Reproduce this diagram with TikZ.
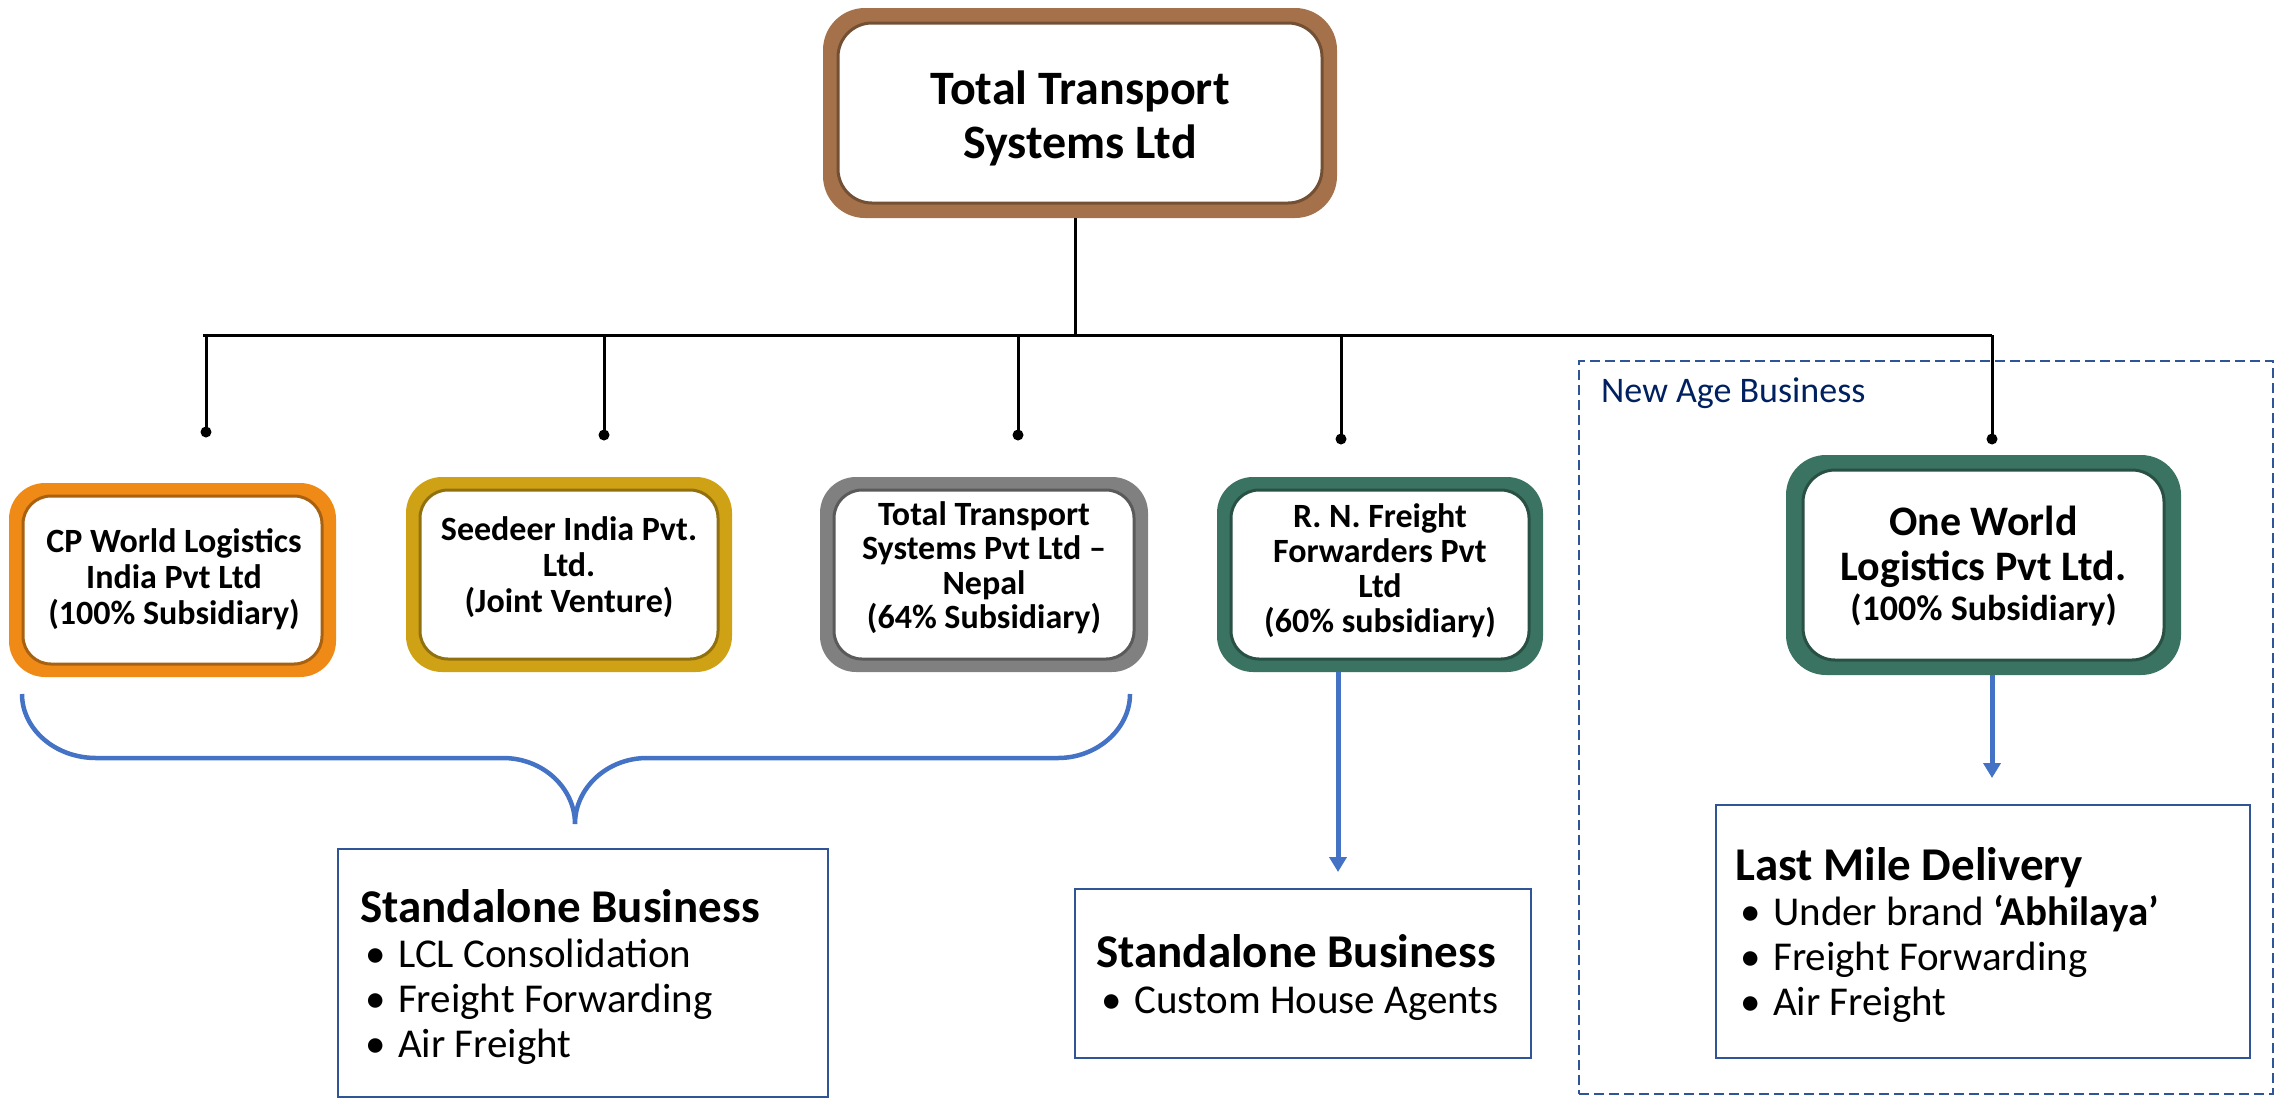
\documentclass[tikz,border=0pt]{standalone}
\usepackage{fontspec}
\setmainfont{Carlito}
\usetikzlibrary{arrows.meta}
\definecolor{cporange}{HTML}{EF8A17}
\definecolor{seedgold}{HTML}{CFA115}
\definecolor{nepgray}{HTML}{808080}
\definecolor{rngreen}{HTML}{3A7361}
\definecolor{topbrown}{HTML}{A5714A}
\definecolor{linkblue}{HTML}{4472C4}
\definecolor{frameblue}{HTML}{2F5597}
\definecolor{navytext}{HTML}{002060}
\newcommand{\cboxtext}[2]{\parbox[t]{#1}{\centering #2}}
\newcommand{\blt}{\hspace*{5pt}\makebox[33pt][l]{•}}
\tikzset{
  ringouter/.style={rounded corners=36pt, inner sep=0pt, outer sep=0pt},
  ringinner/.style={rounded corners=28pt, fill=white, line width=3pt, inner sep=0pt, outer sep=0pt},
  subtext/.style={anchor=base, inner sep=0pt, font=\fontsize{34}{36}\selectfont\bfseries},
  busline/.style={line width=3pt, black},
  dotend/.style={circle, fill=black, inner sep=0pt, minimum size=11pt},
  bluearrow/.style={line width=5pt, linkblue, -{Triangle[length=15pt,width=17pt]}},
  sbox/.style={draw=frameblue, line width=2.5pt, inner sep=0pt, outer sep=0pt},
  listtext/.style={anchor=base west, inner sep=0pt},
}
\begin{document}
\begin{tikzpicture}[x=1pt, y=-1pt]
\useasboundingbox (0,0) rectangle (2280,1098);

% top box
\node[ringouter, rounded corners=42pt, fill=topbrown, minimum width=514pt, minimum height=210pt] (top) at (1080,113) {};
\node[ringinner, rounded corners=34pt, draw=topbrown!70!black, minimum width=484pt, minimum height=180pt] (topin) at (top.center) {};
\node[anchor=base, inner sep=0pt, font=\fontsize{48}{54}\selectfont\bfseries] (toptext) at (1080,104) {\cboxtext{480pt}{Total Transport\\Systems Ltd}};

% subsidiary boxes
\node[ringouter, fill=cporange, minimum width=327pt, minimum height=194pt] (cp) at (172.5,580) {};
\node[ringinner, draw=cporange!70!black, minimum width=299pt, minimum height=168pt] (cpin) at (cp.center) {};
\node[subtext] (cptext) at (174,552) {\cboxtext{290pt}{CP World Logistics\\India Pvt Ltd\\(100\% Subsidiary)}};

\node[ringouter, fill=seedgold, minimum width=326pt, minimum height=195pt] (seed) at (569,574.5) {};
\node[ringinner, draw=seedgold!70!black, minimum width=298pt, minimum height=169pt] (seedin) at (seed.center) {};
\node[subtext] (seedtext) at (569,540) {\cboxtext{290pt}{Seedeer India Pvt.\\Ltd.\\(Joint Venture)}};

\node[ringouter, fill=nepgray, minimum width=328pt, minimum height=195pt] (nep) at (984,574.5) {};
\node[ringinner, draw=nepgray!70!black, minimum width=300pt, minimum height=169pt] (nepin) at (nep.center) {};
\node[subtext, font=\fontsize{34}{34.5}\selectfont\bfseries] (neptext) at (984,525) {\cboxtext{296pt}{Total Transport\\Systems Pvt Ltd –\\Nepal\\(64\% Subsidiary)}};

\node[ringouter, fill=rngreen, minimum width=326pt, minimum height=195pt] (rn) at (1380,574.5) {};
\node[ringinner, draw=rngreen!70!black, minimum width=298pt, minimum height=169pt] (rnin) at (rn.center) {};
\node[subtext, font=\fontsize{34}{35.3}\selectfont\bfseries] (rntext) at (1380,527) {\cboxtext{290pt}{R. N. Freight\\Forwarders Pvt\\Ltd\\(60\% subsidiary)}};

% new age frame
\node[draw=frameblue, dashed, dash pattern=on 10pt off 5pt, line width=2.5pt, minimum width=694pt, minimum height=733pt, inner sep=0pt] (newage) at (1926,727.5) {};
\node[anchor=base west, inner sep=0pt, text=navytext, font=\fontsize{36}{40}\selectfont] (newagelbl) at (1601,402) {New Age Business};

\node[ringouter, rounded corners=40pt, fill=rngreen, minimum width=395pt, minimum height=220pt] (ow) at (1983.5,565) {};
\node[ringinner, rounded corners=32pt, draw=rngreen!70!black, minimum width=361pt, minimum height=190pt] (owin) at (ow.center) {};
\node[anchor=base, inner sep=0pt, font=\fontsize{42}{45}\selectfont\bfseries] (owtext) at (1983.5,535) {\cboxtext{350pt}{One World\\Logistics Pvt Ltd.\par\fontsize{36}{40}\selectfont(100\% Subsidiary)}};

% connectors from top
\coordinate (busL) at (203,335);
\coordinate (busR) at (1992,335);
\draw[busline] (busL) -- (busR);
\draw[busline] ([xshift=-5pt]top.south) -- ([xshift=-5pt]top.south |- busL);
\node[dotend] (dcp) at (206,432) {};
\node[dotend] (dseed) at (604,435) {};
\node[dotend] (dnep) at (1018,435) {};
\node[dotend] (drn) at (1341,439) {};
\node[dotend] (dow) at (1992,439) {};
\foreach \d in {dcp,dseed,dnep,drn,dow}{
  \draw[busline] (\d |- busL) -- (\d.center);
}

% standalone / last mile boxes
\node[sbox, minimum width=490pt, minimum height=248pt] (sb1) at (583,973) {};
\node[listtext] (sb1text) at (360,922) {\parbox[t]{460pt}{\fontsize{47}{45}\selectfont\bfseries Standalone Business\\
  \fontsize{41}{45}\selectfont\mdseries\blt LCL Consolidation\\
  \blt Freight Forwarding\\
  \blt Air Freight}};

\node[sbox, minimum width=456pt, minimum height=169pt] (sb2) at (1303,973.5) {};
\node[listtext] (sb2text) at (1096,967) {\parbox[t]{430pt}{\fontsize{47}{46}\selectfont\bfseries Standalone Business\\
  \fontsize{41}{46}\selectfont\mdseries\blt Custom House Agents}};

\node[sbox, minimum width=534pt, minimum height=253pt] (sb3) at (1983,931.5) {};
\node[listtext] (sb3text) at (1735,880) {\parbox[t]{500pt}{\fontsize{47}{45}\selectfont\bfseries Last Mile Delivery\\
  \fontsize{41}{45}\selectfont\mdseries\blt Under brand \textbf{‘Abhilaya’}\\
  \blt Freight Forwarding\\
  \blt Air Freight}};

% brace
\draw[linkblue, line width=4.5pt] (22,694) .. controls (22,729) and (55,758) .. (96,758) -- (503,758)
  .. controls (543,758) and (575,788) .. (575,824)
  .. controls (575,788) and (607,758) .. (647,758) -- (1058,758)
  .. controls (1097,758) and (1130,729) .. (1130,694);

% blue arrows
\draw[bluearrow, shorten >=17pt] ([xshift=-42pt]rn.south) -- ([xshift=-42pt]rn.south |- sb2.north);
\draw[bluearrow, shorten >=27pt] ([xshift=8.5pt]ow.south) -- ([xshift=8.5pt]ow.south |- sb3.north);
\end{tikzpicture}
\end{document}
